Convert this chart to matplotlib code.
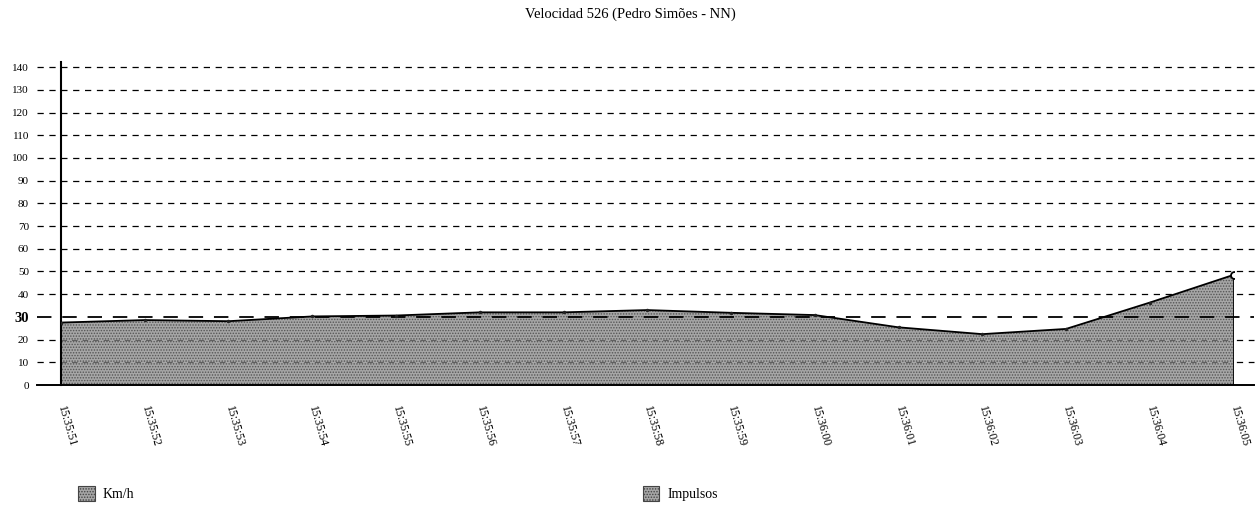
""" Velocidad 526 - area chart """

import matplotlib
matplotlib.use("Agg")
import matplotlib.pyplot as plt
from matplotlib.patches import Patch

# data
times = ["15:35:51", "15:35:52", "15:35:53", "15:35:54", "15:35:55",
         "15:35:56", "15:35:57", "15:35:58", "15:35:59", "15:36:00",
         "15:36:01", "15:36:02", "15:36:03", "15:36:04", "15:36:05"]
kmh = [27.5, 28.6, 28.1, 30.2, 30.6, 32.0, 32.0, 33.0, 31.8, 30.8,
       25.4, 22.4, 24.7, 36.3, 48.5]
y_ticks = list(range(0, 150, 10))
limit_kmh = 30
title = "Velocidad 526 (Pedro Simões - NN)"
legend_labels = ["Km/h", "Impulsos"]

FILL_FACE = "#a6a6a6"
HATCH_COL = "#555555"

plt.rcParams["font.family"] = ["Liberation Serif", "DejaVu Serif"]
plt.rcParams["hatch.color"] = HATCH_COL
plt.rcParams["hatch.linewidth"] = 0.7


def main():
    fig = plt.figure(figsize=(12.6, 5.09), dpi=100)
    ax = fig.add_axes([0.0484, 0.2436, 0.9306, 0.6344])

    x = list(range(len(times)))
    x_lo, x_hi = -0.29, len(times) - 1 + 0.25

    # dashed grid lines, running past both ends of the plot
    for v in y_ticks[1:]:
        if v == limit_kmh:
            continue
        ax.plot([x_lo, x_hi], [v, v], color="black", lw=0.9,
                dashes=(5, 4.5), clip_on=False, zorder=1)

    # filled area
    ax.fill_between(x, 0, kmh, facecolor=FILL_FACE, edgecolor=HATCH_COL,
                    hatch="......", linewidth=0, zorder=2)
    # faint grid inside the fill
    for v in [10, 20]:
        ax.plot([0, x[-1]], [v, v], color="#606060", lw=0.8,
                dashes=(5, 4.5), zorder=2.5)
    ax.plot(x, kmh, color="black", lw=1.3, zorder=4)
    ax.plot(x[:-1], kmh[:-1], ".", color="#222222", ms=3, zorder=5)
    ax.plot(x[-1], kmh[-1], "o", mfc="white", mec="black", ms=5, mew=1.3,
            zorder=5)
    ax.plot([x[-1], x[-1]], [0, kmh[-1]], color="black", lw=1.3, zorder=4)

    # thicker reference line at 30
    ax.plot([x_lo, x_hi], [limit_kmh, limit_kmh], color="black", lw=1.3,
            dashes=(8, 6), clip_on=False, zorder=3)

    # baseline
    ax.plot([x_lo, x_hi], [0, 0], color="black", lw=1.4, clip_on=False,
            zorder=4)

    ax.set_xlim(0, len(times) - 1)
    ax.set_ylim(0, 142.2)
    for s in ["top", "right", "bottom"]:
        ax.spines[s].set_visible(False)
    ax.spines["left"].set_linewidth(1.5)

    ax.set_yticks(y_ticks)
    ax.set_yticklabels([str(v) for v in y_ticks])
    ax.tick_params(axis="y", length=0, pad=23, labelsize=8)
    for lab in ax.get_yticklabels():
        if lab.get_text() == str(limit_kmh):
            lab.set_fontweight("bold")
            lab.set_fontsize(10.5)

    ax.set_xticks(x)
    ax.set_xticklabels(times, rotation=-74, rotation_mode="anchor",
                       ha="left", va="center", fontsize=8.5)
    ax.tick_params(axis="x", length=0, pad=15)

    fig.text(0.5, 0.972, title, ha="center", va="center", fontsize=10.5)

    # legend, one entry at each side
    for lab, xpos in zip(legend_labels, [0.052, 0.5]):
        h = Patch(facecolor=FILL_FACE, edgecolor="#444444", hatch="......",
                  linewidth=0.8)
        fig.legend([h], [lab], loc="center left", bbox_to_anchor=(xpos, 0.03),
                   frameon=False, fontsize=10, handlelength=1.2,
                   handleheight=1.2, handletextpad=0.6)

    fig.savefig("out.png", dpi=100)


if __name__ == "__main__":
    main()
